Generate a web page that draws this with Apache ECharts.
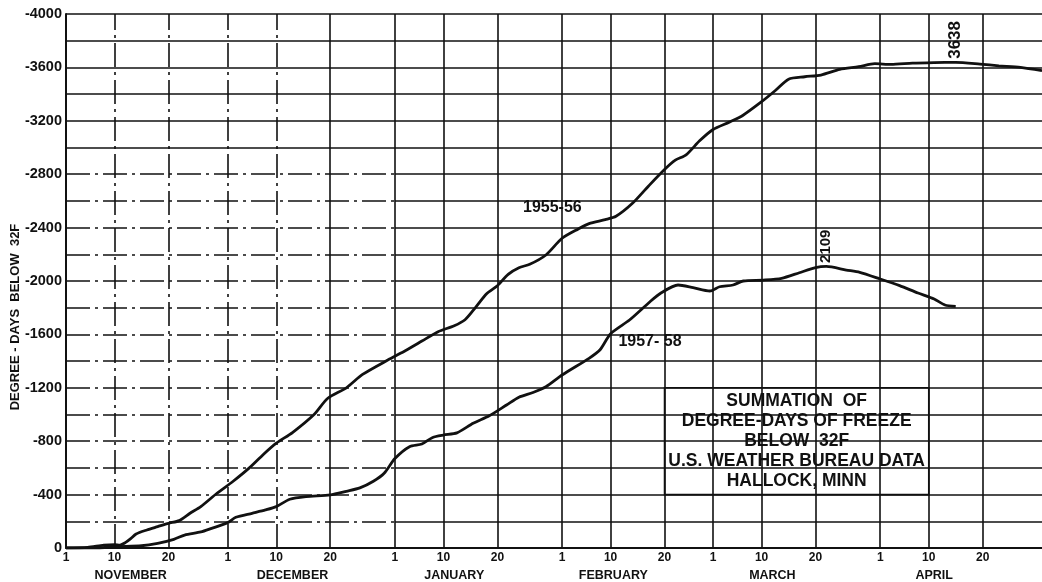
<!DOCTYPE html>
<html>
<head>
<meta charset="utf-8">
<script src="https://cdn.jsdelivr.net/npm/echarts@6/dist/echarts.min.js"></script>
<style>
  html, body { margin: 0; padding: 0; background: #fff; }
  #chart { width: 1042px; height: 582px; }
</style>
</head>
<body>
<div id="chart"></div>
<script>
// Days are counted from November 1 (day 0); March 1 falls on day 120.
const tickDays   = [0, 9, 19, 30, 39, 49, 61, 70, 80, 92, 101, 111, 120, 129, 139, 151, 160, 170];
const tickLabels = ['1','10','20','1','10','20','1','10','20','1','10','20','1','10','20','1','10','20'];
const monthNames = ['NOVEMBER', 'DECEMBER', 'JANUARY', 'FEBRUARY', 'MARCH', 'APRIL'];

// Cumulative degree-days of freeze below 32F, season 1955-56
const days1955 = [0, 4, 7, 9, 10, 11, 12, 13, 15, 17, 19, 21, 23, 25, 28, 31, 34, 36.5, 39, 42, 46, 48.5,
  52, 55, 60, 63, 66, 69, 72, 74, 76, 78, 80, 82, 84, 86, 89, 92, 95, 97, 100, 102, 105, 108, 111, 113,
  115, 117.5, 120, 123, 125.5, 129, 131.5, 134, 137, 140, 143.5, 147, 150, 153, 157, 161, 165, 169.5,
  173, 177, 181];
const freeze1955 = [0, -5, -22, -25, -22, -40, -70, -105, -135, -160, -185, -205, -260, -310, -410, -500,
  -600, -697, -785, -865, -1000, -1120, -1200, -1300, -1415, -1480, -1550, -1620, -1665, -1710, -1805,
  -1905, -1965, -2050, -2100, -2125, -2195, -2320, -2390, -2430, -2460, -2485, -2580, -2710, -2835,
  -2905, -2945, -3050, -3135, -3190, -3240, -3343, -3425, -3512, -3530, -3543, -3585, -3605, -3628,
  -3622, -3632, -3636, -3638, -3625, -3612, -3600, -3575];

// Cumulative degree-days of freeze below 32F, season 1957-58
const days1957 = [0, 6, 9, 14, 17, 20, 22, 25, 27, 30, 31.5, 34.5, 37, 39, 41.5, 44.5, 49, 52, 54.5, 57,
  59, 61, 63.7, 66, 68, 70, 72.5, 75.5, 78.5, 81.7, 84, 86.6, 89, 92, 97, 99, 101, 104.5, 108.3, 110.4,
  113.5, 116.3, 119.4, 121.2, 123.7, 125.6, 129.3, 132.7, 136, 139, 141, 144.7, 147.2, 151, 154.6, 158,
  161, 163, 165];
const freeze1957 = [0, 0, -10, -17, -35, -65, -97, -120, -147, -190, -230, -260, -285, -310, -365, -385,
  -398, -425, -450, -500, -560, -670, -759, -779, -828, -846, -862, -934, -990, -1071, -1130, -1165,
  -1208, -1296, -1421, -1483, -1605, -1708, -1845, -1912, -1970, -1950, -1925, -1957, -1970, -2000,
  -2007, -2020, -2062, -2100, -2109, -2082, -2065, -2015, -1965, -1910, -1865, -1820, -1810];

const boxLines = ['SUMMATION  OF', 'DEGREE-DAYS OF FREEZE', 'BELOW  32F',
  'U.S. WEATHER BUREAU DATA', 'HALLOCK, MINN'];

// ---- layout / style ----
const FONT = 'Liberation Sans, Arial, sans-serif';
const INK = '#111';
const X_MAX = 181;
const Y_MIN = -4000;
const monthLabelDays = [12, 42, 72, 101.5, 131, 161];
const dashDot = [24, 5, 3, 5];

const zip = (xs, ys) => xs.map((x, i) => [x, ys[i]]);

// Graph-paper rulings: horizontal every 200, vertical at each dated tick.
function seg(a, b, type) {
  return [
    { coord: a, lineStyle: { type: type, color: INK, width: 1.6 } },
    { coord: b }
  ];
}
const rulings = [];
for (let v = -200; v >= -3800; v -= 200) {
  if (v > -2900) {
    rulings.push(seg([0, v], [61, v], dashDot));
    rulings.push(seg([61, v], [X_MAX, v], 'solid'));
  } else {
    rulings.push(seg([0, v], [X_MAX, v], 'solid'));
  }
}
rulings.push(seg([0, Y_MIN], [X_MAX, Y_MIN], 'solid'));
tickDays.slice(1).forEach(d => {
  rulings.push(seg([d, 0], [d, Y_MIN], d < 45 ? dashDot : 'solid'));
});

const peakLabel = (size) => ({
  data: [{ type: 'min', valueDim: 'y' }],
  symbol: 'circle',
  symbolSize: 1,
  itemStyle: { color: 'rgba(0,0,0,0)' },
  label: {
    show: true,
    position: 'top',
    distance: 3,
    rotate: 90,
    align: 'left',
    verticalAlign: 'middle',
    formatter: p => String(Math.abs(p.value)),
    color: INK,
    fontFamily: FONT,
    fontWeight: 'bold',
    fontSize: size
  }
});

const nameLabel = (text, at) => ({
  silent: true,
  symbol: 'circle',
  symbolSize: 1,
  itemStyle: { color: 'rgba(0,0,0,0)' },
  label: {
    show: true, position: 'inside', formatter: text,
    color: INK, fontFamily: FONT, fontWeight: 'bold', fontSize: 16
  },
  data: [{ coord: at }]
});

const chart = echarts.init(document.getElementById('chart'), null, { renderer: 'canvas' });
chart.setOption({
  animation: false,
  backgroundColor: '#fff',
  grid: { left: 66, right: 0, top: 14, bottom: 34, containLabel: false, outerBoundsMode: 'none' },
  xAxis: [
    {
      type: 'value', min: 0, max: X_MAX,
      axisLine: { show: true, lineStyle: { color: INK, width: 2 } },
      axisTick: { show: false },
      splitLine: { show: false },
      axisLabel: {
        customValues: tickDays,
        formatter: v => tickLabels[tickDays.indexOf(v)] || '',
        color: INK, fontFamily: FONT, fontWeight: 'bold', fontSize: 12, margin: 4
      }
    },
    {
      type: 'value', min: 0, max: X_MAX, position: 'bottom', offset: 17,
      axisLine: { show: false }, axisTick: { show: false }, splitLine: { show: false },
      axisLabel: {
        customValues: monthLabelDays,
        formatter: v => monthNames[monthLabelDays.indexOf(v)] || '',
        color: INK, fontFamily: FONT, fontWeight: 'bold', fontSize: 12.5, margin: 4
      }
    }
  ],
  yAxis: {
    type: 'value', min: Y_MIN, max: 0, interval: 400, inverse: true,
    name: 'DEGREE - DAYS  BELOW  32F',
    nameLocation: 'middle', nameGap: 44, nameRotate: 90, nameMoveOverlap: false,
    nameTextStyle: {
      color: INK, fontFamily: FONT, fontWeight: 'bold', fontSize: 13,
      padding: [0, 72, 0, 0]
    },
    axisLine: { show: true, lineStyle: { color: INK, width: 2 } },
    axisTick: { show: false },
    splitLine: { show: false },
    axisLabel: {
      formatter: v => String(v),
      color: INK, fontFamily: FONT, fontWeight: 'bold', fontSize: 14.5, margin: 4
    }
  },
  series: [
    {
      name: 'rulings', type: 'line', data: [[0, 0]], z: 1,
      symbol: 'none', lineStyle: { width: 0 }, silent: true,
      markLine: { silent: true, symbol: 'none', label: { show: false }, animation: false, data: rulings }
    },
    {
      name: 'legend box', type: 'line', data: [[0, 0]], z: 2,
      symbol: 'none', lineStyle: { width: 0 }, silent: true,
      markArea: {
        silent: true,
        itemStyle: { color: '#fff', borderColor: INK, borderWidth: 1.6 },
        label: {
          show: true, position: 'inside', formatter: boxLines.join('\n'),
          color: INK, fontFamily: FONT, fontWeight: 'bold', fontSize: 17.5, lineHeight: 20, align: 'center'
        },
        data: [[{ coord: [111, -1200] }, { coord: [160, -400] }]]
      }
    },
    {
      name: '1955-56', type: 'line', z: 3, data: zip(days1955, freeze1955),
      smooth: 0.25, symbol: 'none', lineStyle: { color: INK, width: 2.8 },
      markPoint: peakLabel(17)
    },
    {
      name: '1957-58', type: 'line', z: 3, data: zip(days1957, freeze1957),
      smooth: 0.25, symbol: 'none', lineStyle: { color: INK, width: 2.8 },
      markPoint: peakLabel(15)
    },
    {
      name: 'curve names', type: 'line', z: 3, data: [[0, 0]],
      symbol: 'none', lineStyle: { width: 0 }, silent: true,
      markPoint: nameLabel('1955-56', [90.2, -2550])
    },
    {
      name: 'curve names 2', type: 'line', z: 3, data: [[0, 0]],
      symbol: 'none', lineStyle: { width: 0 }, silent: true,
      markPoint: nameLabel('1957- 58', [108.3, -1543])
    }
  ]
});
</script>
</body>
</html>
